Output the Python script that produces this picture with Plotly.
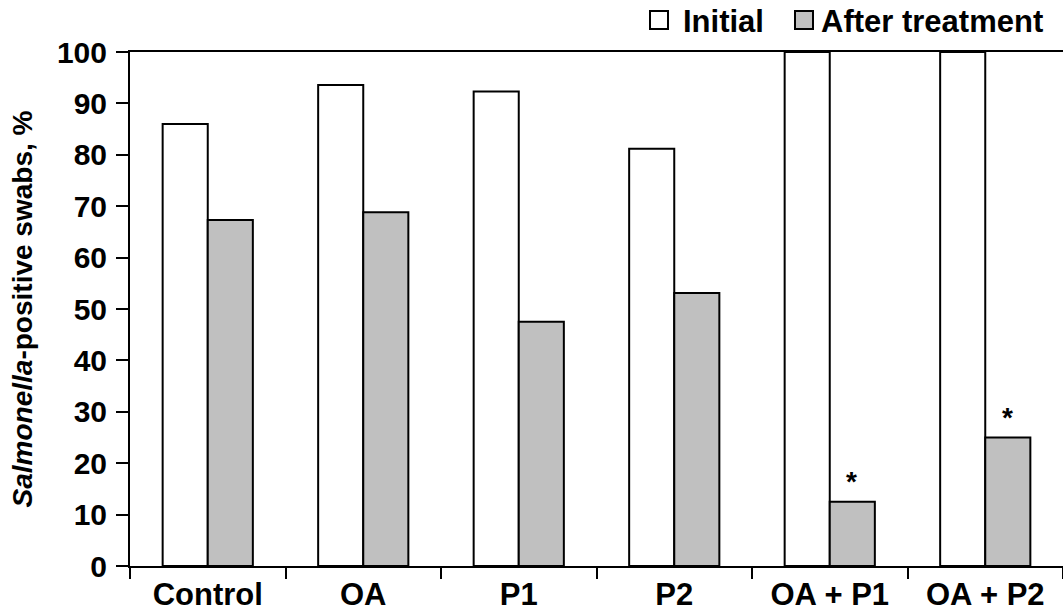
import plotly.graph_objects as go

categories = ["Control", "OA", "P1", "P2", "OA + P1", "OA + P2"]
initial = [86.0, 93.6, 92.3, 81.2, 100.0, 100.0]
after_treatment = [67.3, 68.8, 47.5, 53.1, 12.5, 25.0]
significance = ["", "", "", "", "*", "*"]
y_ticks = [0, 10, 20, 30, 40, 50, 60, 70, 80, 90, 100]
series_names = ["Initial", "After treatment"]
series_colors = ["white", "#c0c0c0"]

FONT = "Liberation Sans, Arial, sans-serif"
W, H = 1063, 615
ML, MR, MT, MB = 130, 0, 52, 49
PW, PH = W - ML - MR, H - MT - MB


def px2x(px):
    return (px - ML) / PW


def py2y(py):
    return (H - MB - py) / PH


fig = go.Figure()
for name, vals, col in zip(series_names, [initial, after_treatment], series_colors):
    fig.add_trace(go.Bar(
        x=categories, y=vals, name=name,
        marker=dict(color=col, line=dict(color="black", width=2)),
    ))

for cat, val, mark in zip(categories, after_treatment, significance):
    if mark:
        fig.add_annotation(
            x=cat, y=val, text="<b>" + mark + "</b>", showarrow=False,
            xref="x", yref="y", xshift=22, yanchor="bottom", yshift=3,
            font=dict(family=FONT, size=28, color="black"),
        )

# manual legend (boxes + labels) above the plot, at the top right
legend_boxes = [(650, 668), (795, 813)]
legend_text_x = [682, 820]
for (x0, x1), tx, name, col in zip(legend_boxes, legend_text_x, series_names, series_colors):
    fig.add_shape(type="rect", xref="paper", yref="paper",
                  x0=px2x(x0), x1=px2x(x1), y0=py2y(29), y1=py2y(11),
                  fillcolor=col, line=dict(color="black", width=2))
    fig.add_annotation(xref="paper", yref="paper", x=px2x(tx), y=py2y(22),
                       xanchor="left", yanchor="middle", showarrow=False,
                       borderpad=0,
                       text="<b>" + name + "</b>",
                       font=dict(family=FONT, size=31, color="black"))

fig.update_layout(
    width=W, height=H,
    margin=dict(l=ML, r=MR, t=MT, b=MB, autoexpand=False),
    paper_bgcolor="white", plot_bgcolor="white",
    barmode="group", bargap=0.42, bargroupgap=0,
    font=dict(family=FONT, size=30, color="black"),
    showlegend=False,
    hovermode=False,
    xaxis=dict(
        automargin=False,
        showline=True, linecolor="black", linewidth=2, mirror=True,
        ticks="outside", tickson="boundaries", ticklen=11, tickwidth=2,
        tickcolor="black", showgrid=False,
        tickfont=dict(family=FONT, size=31, color="black"),
        tickprefix="<b>", ticksuffix="</b>",
    ),
    yaxis=dict(
        automargin=False,
        range=[0, 100], tickvals=y_ticks,
        ticktext=["<b>%d</b>" % v for v in y_ticks],
        showline=True, linecolor="black", linewidth=2,
        ticks="outside", ticklen=12, tickwidth=2, tickcolor="black",
        ticklabelstandoff=3,
        showgrid=False, zeroline=False,
        tickfont=dict(family=FONT, size=30, color="black"),
        title=dict(text="<b><i>Salmonella</i>-positive swabs, %</b>",
                   font=dict(family=FONT, size=28, color="black"), standoff=16),
    ),
)

fig.write_html(
    "out.html",
    config={"displayModeBar": False},
    post_script="document.body.style.margin='0';document.body.style.overflow='hidden';",
)
